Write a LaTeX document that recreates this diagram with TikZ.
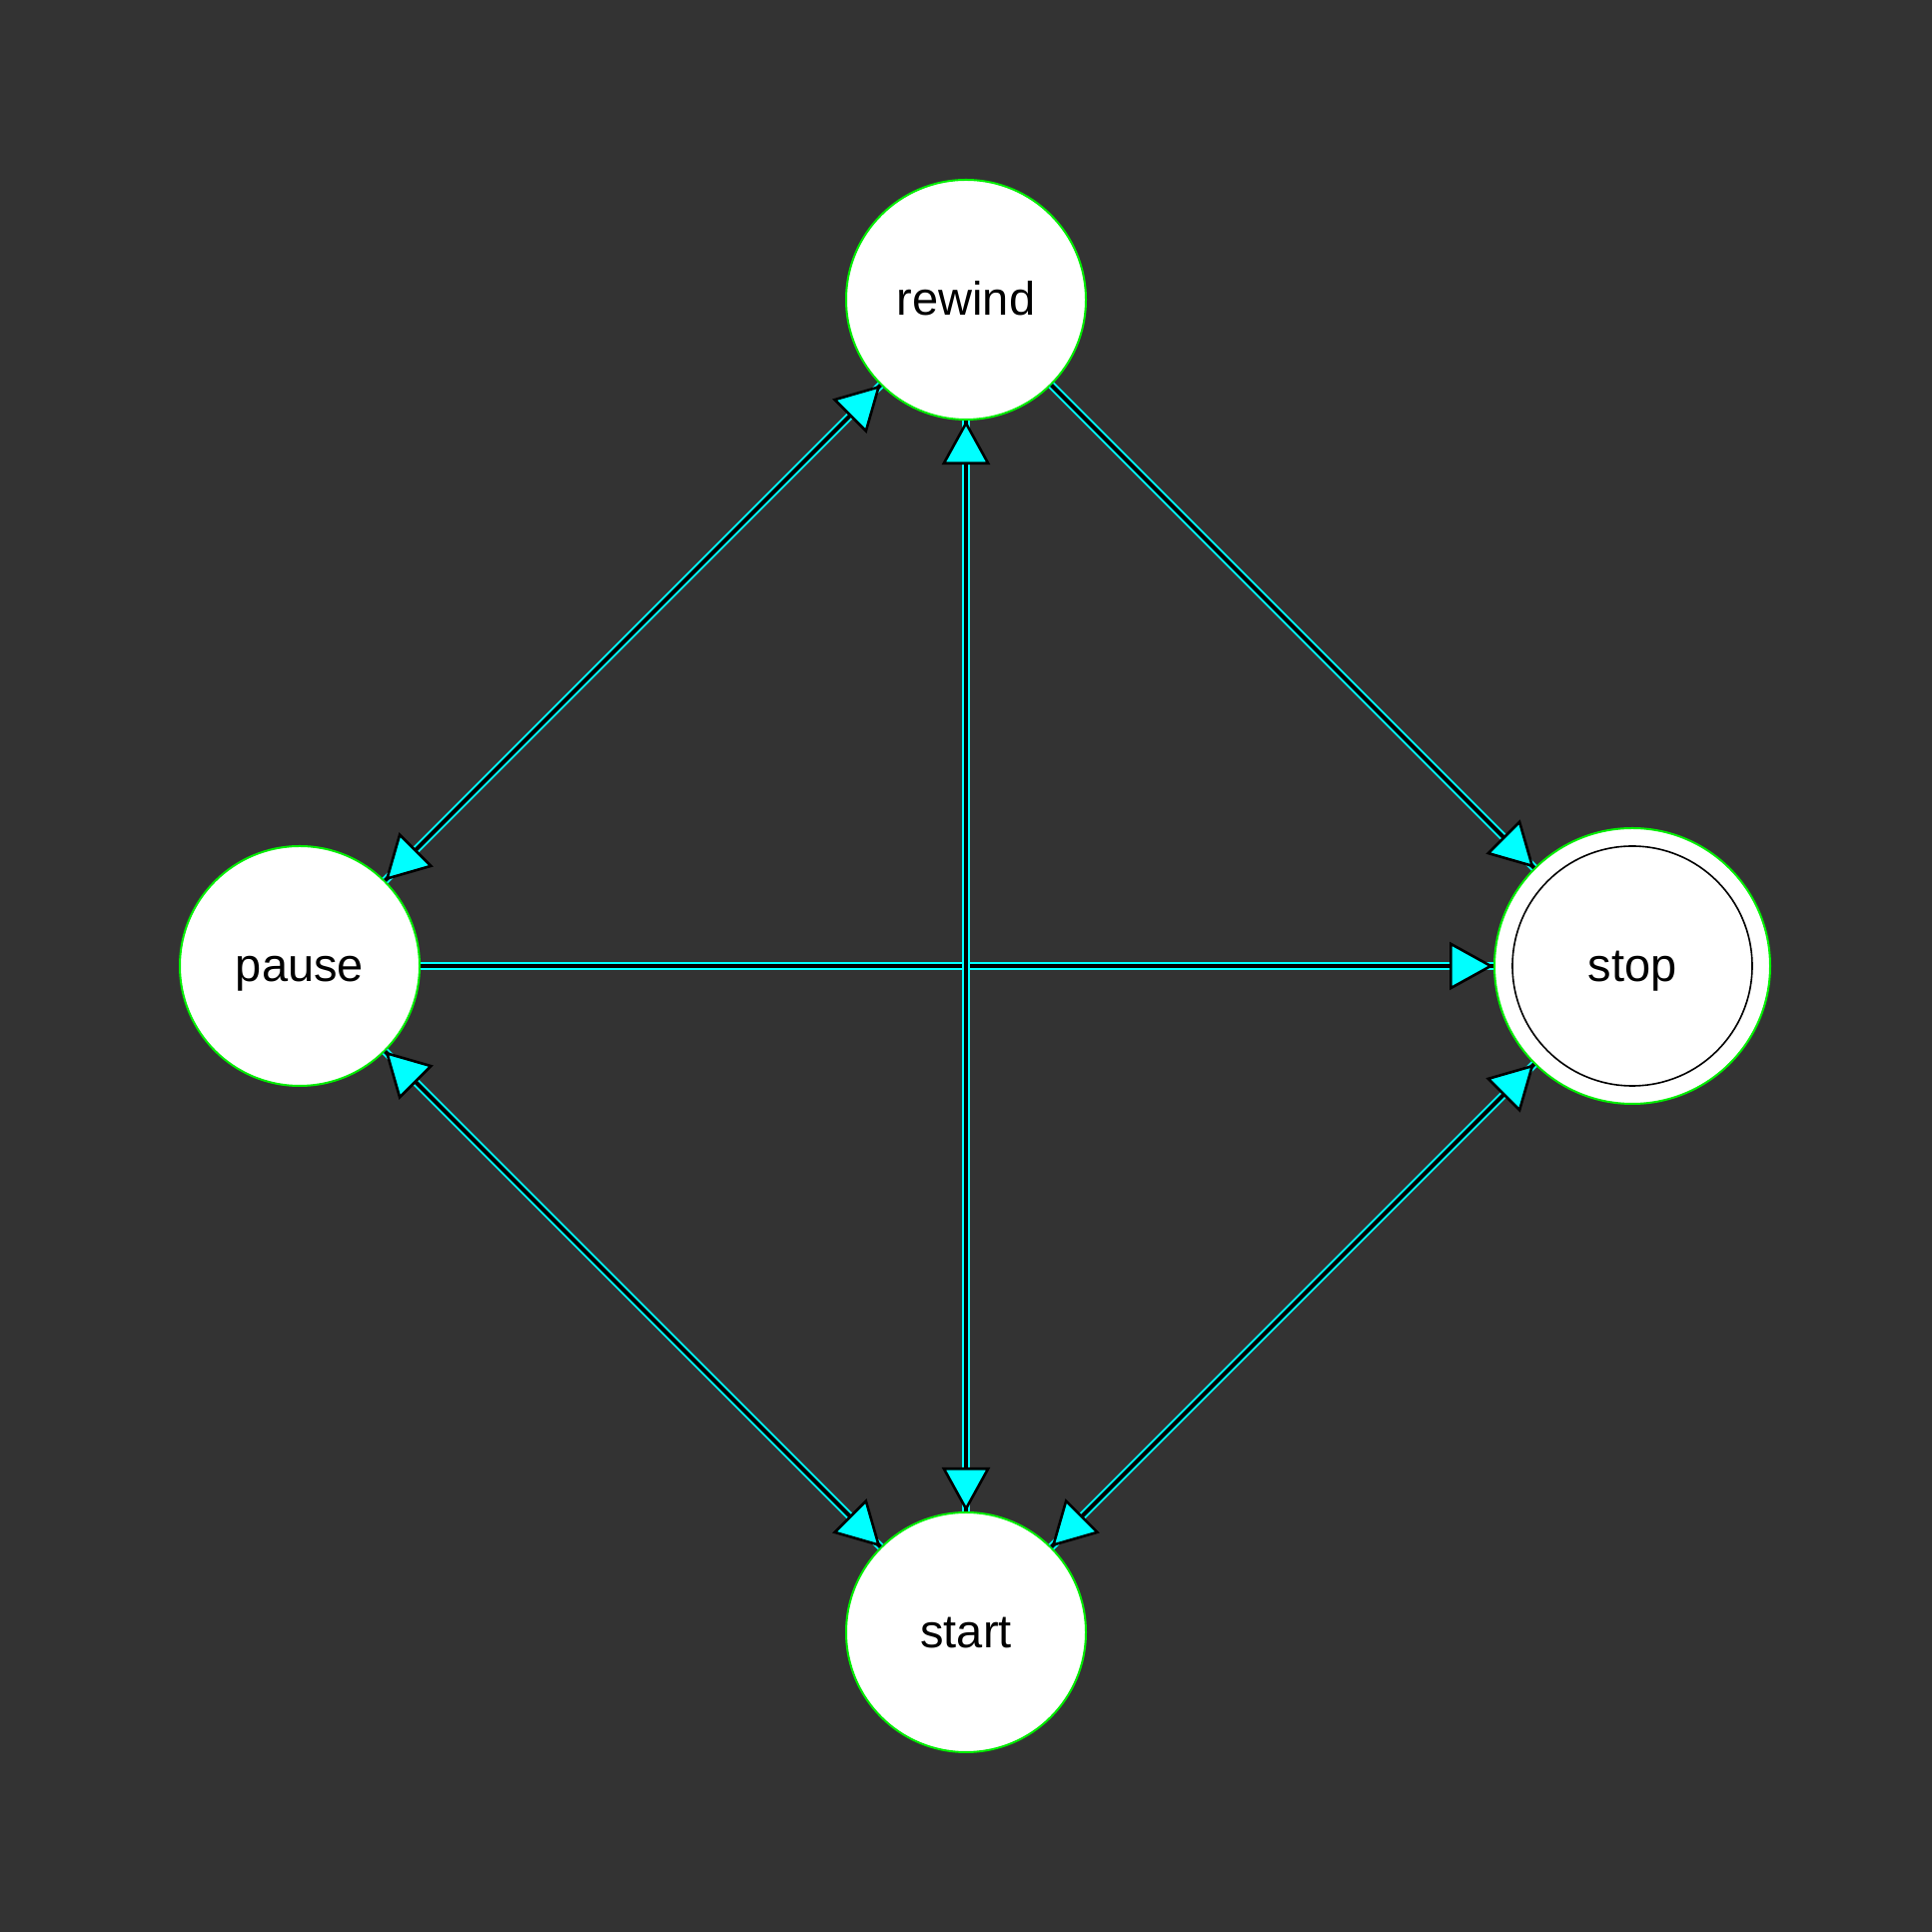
\documentclass[tikz,border=0pt]{standalone}
\usepackage{fontspec}
\setmainfont{Liberation Sans}
\usetikzlibrary{positioning}
\usetikzlibrary{arrows.meta}
\usetikzlibrary{decorations.markings}

\definecolor{bg}{HTML}{333333}
\definecolor{rim}{HTML}{00EE00}
\definecolor{cy}{HTML}{00FFFF}

\begin{document}
\begin{tikzpicture}[
		x=0.5pt, y=0.5pt,
		node distance=333.5pt and 333.5pt, on grid,
		>={Triangle[length=22pt, width=24pt, black, fill=cy, line width=1.3pt]},
		n/.style={draw=rim, fill=white, circle, line width=1pt, minimum size=120pt, inner sep=0pt,
			text height=16pt, text depth=0pt, font=\fontsize{23.5pt}{28pt}\selectfont},
		acc/.style={n, minimum size=138pt,
			path picture={\draw[black, line width=0.8pt] (path picture bounding box.center) circle (60pt);}},
		a/.style={draw=cy, line width=1pt, double=black, double distance=2pt, postaction={decorate},
			decoration={markings, mark=at position 1 with {\arrow{>}}}},
		aa/.style={draw=cy, line width=1pt, double=black, double distance=2pt, postaction={decorate},
			decoration={markings, mark=at position 0.01pt with {\arrowreversed{>}},
			mark=at position 1 with {\arrow{>}}}},
	]
		\fill[bg] (0,0) rectangle (1934,1934);
		\node[n] (rewind) at (967,1634) {rewind};
		\node[n, below left=of rewind] (pause) {pause};
		\node[acc, below right=of rewind] (stop) {stop};
		\node[n, below=667pt of rewind] (start) {start};

		\draw[aa] (rewind) -- (pause);
		\draw[a] (rewind) -- (stop);
		\draw[a] (pause) -- (stop);
		\draw[aa] (rewind) -- (start);
		\draw[aa] (pause) -- (start);
		\draw[aa] (stop) -- (start);
	\end{tikzpicture}
\end{document}
